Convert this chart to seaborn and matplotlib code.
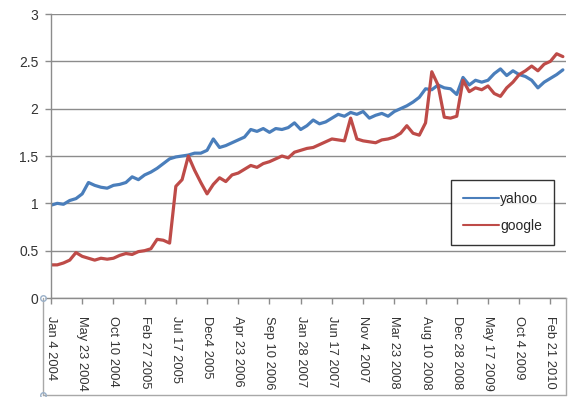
import matplotlib
matplotlib.use("Agg")
import matplotlib.pyplot as plt
from matplotlib.lines import Line2D
import seaborn as sns
import pandas as pd
import numpy as np

# samples every 4 weeks starting Jan 4 2004
yahoo = [0.98, 1.00, 0.99, 1.03, 1.05, 1.10, 1.22, 1.19, 1.17, 1.16,
         1.19, 1.20, 1.22, 1.28, 1.25, 1.30, 1.33, 1.37, 1.42, 1.47,
         1.49, 1.50, 1.51, 1.53, 1.53, 1.56, 1.68, 1.59, 1.61, 1.64,
         1.67, 1.70, 1.78, 1.76, 1.79, 1.75, 1.79, 1.78, 1.80, 1.85,
         1.78, 1.82, 1.88, 1.84, 1.86, 1.90, 1.94, 1.92, 1.96, 1.94,
         1.97, 1.90, 1.93, 1.95, 1.92, 1.97, 2.00, 2.03, 2.07, 2.12,
         2.21, 2.20, 2.25, 2.22, 2.21, 2.15, 2.33, 2.25, 2.30, 2.28,
         2.30, 2.37, 2.42, 2.35, 2.40, 2.36, 2.34, 2.30, 2.22, 2.28,
         2.32, 2.36, 2.41]
google = [0.35, 0.35, 0.37, 0.40, 0.48, 0.44, 0.42, 0.40, 0.42, 0.41,
          0.42, 0.45, 0.47, 0.46, 0.49, 0.50, 0.52, 0.62, 0.61, 0.58,
          1.18, 1.25, 1.50, 1.35, 1.22, 1.10, 1.20, 1.27, 1.23, 1.30,
          1.32, 1.36, 1.40, 1.38, 1.42, 1.44, 1.47, 1.50, 1.48, 1.54,
          1.56, 1.58, 1.59, 1.62, 1.65, 1.68, 1.67, 1.66, 1.90, 1.68,
          1.66, 1.65, 1.64, 1.67, 1.68, 1.70, 1.74, 1.82, 1.74, 1.72,
          1.85, 2.39, 2.25, 1.91, 1.90, 1.92, 2.30, 2.18, 2.22, 2.20,
          2.24, 2.16, 2.13, 2.22, 2.28, 2.36, 2.40, 2.45, 2.40, 2.47,
          2.50, 2.58, 2.55]
tick_labels = ["Jan 4 2004", "May 23 2004", "Oct 10 2004", "Feb 27 2005",
               "Jul 17 2005", "Dec4 2005", "Apr 23 2006", "Sep 10 2006",
               "Jan 28 2007", "Jun 17 2007", "Nov 4 2007", "Mar 23 2008",
               "Aug 10 2008", "Dec 28 2008", "May 17 2009", "Oct 4 2009",
               "Feb 21 2010"]
series_names = ["yahoo", "google"]
y_ticks = [0, 0.5, 1, 1.5, 2, 2.5, 3]
y_tick_labels = ["0", "0.5", "1", "1.5", "2", "2.5", "3"]

n = len(yahoo)
df = pd.DataFrame({
    "idx": list(range(n)) * 2,
    "value": yahoo + google,
    "series": [series_names[0]] * n + [series_names[1]] * n,
})

sns.set_style("white")
plt.rcParams["font.family"] = ["Liberation Sans", "DejaVu Sans"]

fig = plt.figure(figsize=(5.69, 3.97), dpi=100)
ax = fig.add_axes([51 / 569, 1 - 298 / 397, 515 / 569, 284 / 397])

sns.lineplot(data=df, x="idx", y="value", hue="series",
             palette={"yahoo": "#4a7ebb", "google": "#be4b48"},
             linewidth=2.3, ax=ax)

ax.set_xlim(0, 82.5)
ax.set_ylim(0, 3)
ax.set_yticks(y_ticks)
ax.set_yticklabels(y_tick_labels, fontsize=10, color="#333333")
ax.set_xticks(np.arange(0, 5 * len(tick_labels), 5))
ax.set_xticklabels(tick_labels, rotation=270, fontsize=9.3, color="#333333",
                   va="top", ha="center")
ax.set_xlabel("")
ax.set_ylabel("")
ax.yaxis.grid(True, color="#8c8c8c", linewidth=1.0)
ax.set_axisbelow(True)
for s in ["top", "right"]:
    ax.spines[s].set_visible(False)
for s in ["left", "bottom"]:
    ax.spines[s].set_color("#8c8c8c")
    ax.spines[s].set_linewidth(1.0)
ax.tick_params(axis="both", direction="out", length=4, width=1,
               color="#8c8c8c", left=True, bottom=True)
ax.tick_params(axis="x", pad=9)
ax.tick_params(axis="y", pad=5)

leg = ax.legend(loc="upper left", bbox_to_anchor=(451 / 569, 1 - 180 / 397),
                bbox_transform=fig.transFigure,
                frameon=True, fancybox=False, fontsize=10,
                handlelength=2.6, handletextpad=0.1, borderpad=0.85,
                labelspacing=0.95, borderaxespad=0)
leg.get_frame().set_edgecolor("black")
leg.get_frame().set_linewidth(1.0)
for line in leg.get_lines():
    line.set_linewidth(1.5)

# selection frame around the category axis
frame_color = "#a8a8a8"
fig.add_artist(Line2D([43 / 569, 43 / 569], [1 - 298 / 397, 1 - 395 / 397],
                      transform=fig.transFigure, color=frame_color, lw=1))
fig.add_artist(Line2D([43 / 569, 566 / 569], [1 - 395 / 397, 1 - 395 / 397],
                      transform=fig.transFigure, color=frame_color, lw=1))
fig.add_artist(Line2D([566 / 569, 566 / 569], [1 - 298 / 397, 1 - 395 / 397],
                      transform=fig.transFigure, color=frame_color, lw=1))
fig.add_artist(Line2D([43 / 569, 43 / 569], [1 - 298 / 397, 1 - 395 / 397],
                      transform=fig.transFigure, color="#9ab0c8", lw=0,
                      marker="o", markersize=4, markerfacecolor="none",
                      markeredgecolor="#9ab0c8"))

fig.savefig("out.png", dpi=100)
